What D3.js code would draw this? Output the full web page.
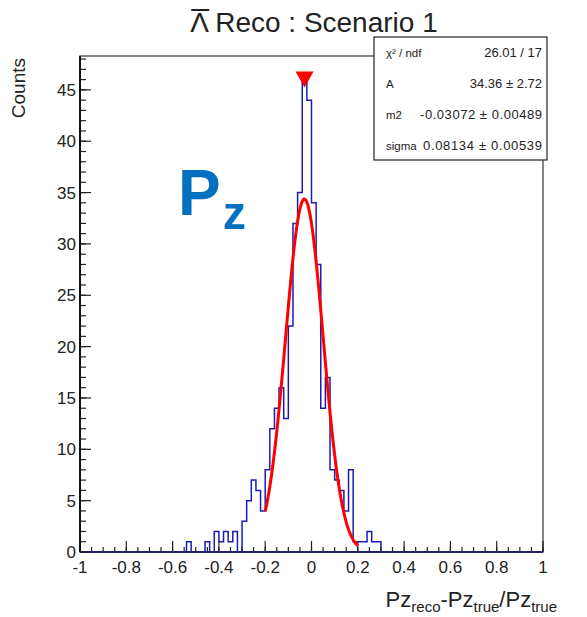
<!DOCTYPE html>
<html lang='en'>
<head>
  <meta charset="utf-8">
  <title>Lambda Reco Pz</title>
  <script src='https://cdn.jsdelivr.net/npm/d3@7'></script>
  <style>
    body { margin: 0; background: white; }
    text { font-family: "Liberation Sans", Arial, sans-serif; }
  </style>
</head>
<body>
  <script>
    // histogram: 100 bins between -1 and 1
    const binLow = -1, binWidth = 0.02;
    const counts = [
      0, 0, 0, 0, 0, 0, 0, 0, 0, 0,
      0, 0, 0, 0, 0, 0, 0, 0, 0, 0,
      0, 0, 0, 1, 0, 0, 0, 1, 0, 2,
      1, 2, 1, 2, 0, 3, 5, 7, 6, 4,
      8, 12, 14, 16, 13, 22, 32, 35, 46, 44,
      34, 28, 14, 17, 8, 7, 6, 4, 8, 1,
      1, 1, 2, 1, 1, 0, 0, 0, 0, 0,
      0, 0, 0, 0, 0, 0, 0, 0, 0, 0,
      0, 0, 0, 0, 0, 0, 0, 0, 0, 0,
      0, 0, 0, 0, 0, 0, 0, 0, 0, 0
    ];
    // gaussian fit (from the stats box) and its range
    const fitA = 34.36, fitMean = -0.03072, fitSigma = 0.08134;
    const fitRange = [-0.2, 0.2];
    const statsRows = [
      ["\u03c7\u00b2 / ndf", "26.01 / 17"],
      ["A", "34.36 \u00b1 2.72"],
      ["m2", "-0.03072 \u00b1 0.00489"],
      ["sigma", "0.08134 \u00b1 0.00539"]
    ];
    const xTicks = [-1, -0.8, -0.6, -0.4, -0.2, 0, 0.2, 0.4, 0.6, 0.8, 1];
    const yTicks = [0, 5, 10, 15, 20, 25, 30, 35, 40, 45];

    let width = 587, height = 617;
    let frame = { left: 80, right: 543, top: 56, bottom: 552 };
    let svg = d3.select("body").append("svg")
      .attr("width", width)
      .attr("height", height);

    let maxCount = d3.max(counts);
    let xScale = d3.scaleLinear().domain([-1, 1]).range([frame.left, frame.right]);
    let yScale = d3.scaleLinear().domain([0, maxCount * 1.05]).range([frame.bottom, frame.top]);

    // frame
    svg.append("rect")
      .attr("x", frame.left).attr("y", frame.top)
      .attr("width", frame.right - frame.left)
      .attr("height", frame.bottom - frame.top)
      .attr("fill", "none")
      .attr("stroke", "#333")
      .attr("stroke-width", 1.2);

    // histogram outline
    let points = counts.map((c, i) => ({ x: binLow + i * binWidth, y: c }));
    points.push({ x: binLow + counts.length * binWidth, y: 0 });
    let step = d3.line()
      .x(d => xScale(d.x))
      .y(d => yScale(d.y))
      .curve(d3.curveStepAfter);
    svg.append("path")
      .attr("d", step(points))
      .attr("fill", "none")
      .attr("stroke", "#1c1cb4")
      .attr("stroke-width", 1.5);

    // x axis: major 0.2, minor 0.05, ticks pointing up
    let xMinor = d3.range(-1, 1.0001, 0.05);
    let xAxisG = svg.append("g");
    xAxisG.selectAll(".xminor").data(xMinor).join("line")
      .attr("x1", d => xScale(d)).attr("x2", d => xScale(d))
      .attr("y1", frame.bottom).attr("y2", frame.bottom - 5)
      .attr("stroke", "#222").attr("stroke-width", 1.2);
    xAxisG.selectAll(".xmajor").data(xTicks).join("line")
      .attr("x1", d => xScale(d)).attr("x2", d => xScale(d))
      .attr("y1", frame.bottom).attr("y2", frame.bottom - 11)
      .attr("stroke", "#222").attr("stroke-width", 1.2);
    xAxisG.append("line")
      .attr("x1", frame.left).attr("x2", frame.right)
      .attr("y1", frame.bottom).attr("y2", frame.bottom)
      .attr("stroke", "#22226a").attr("stroke-width", 2);
    xAxisG.selectAll(".xlab").data(xTicks).join("text")
      .attr("x", d => xScale(d))
      .attr("y", frame.bottom + 21)
      .attr("text-anchor", "middle")
      .attr("font-size", 17)
      .attr("fill", "#222")
      .text(d => String(d));

    // y axis: major 5, minor 1, ticks pointing right
    let yMinor = d3.range(0, 49, 1);
    let yAxisG = svg.append("g");
    yAxisG.selectAll(".yminor").data(yMinor).join("line")
      .attr("x1", frame.left).attr("x2", frame.left + 6)
      .attr("y1", d => yScale(d)).attr("y2", d => yScale(d))
      .attr("stroke", "#222").attr("stroke-width", 1.2);
    yAxisG.selectAll(".ymajor").data(yTicks).join("line")
      .attr("x1", frame.left).attr("x2", frame.left + 11)
      .attr("y1", d => yScale(d)).attr("y2", d => yScale(d))
      .attr("stroke", "#222").attr("stroke-width", 1.2);
    yAxisG.append("line")
      .attr("x1", frame.left).attr("x2", frame.left)
      .attr("y1", frame.top).attr("y2", frame.bottom)
      .attr("stroke", "#111").attr("stroke-width", 2);
    yAxisG.selectAll(".ylab").data(yTicks).join("text")
      .attr("x", frame.left - 4)
      .attr("y", d => yScale(d) + 6)
      .attr("text-anchor", "end")
      .attr("font-size", 17)
      .attr("fill", "#222")
      .text(d => d);

    // gaussian fit curve
    let fitX = d3.range(fitRange[0], fitRange[1] + 0.0001, 0.004);
    let gauss = x => fitA * Math.exp(-0.5 * Math.pow((x - fitMean) / fitSigma, 2));
    let fitLine = d3.line()
      .x(d => xScale(d))
      .y(d => yScale(gauss(d)));
    svg.append("path")
      .attr("d", fitLine(fitX))
      .attr("fill", "none")
      .attr("stroke", "#ff0000")
      .attr("stroke-width", 3);

    // marker on the maximum bin
    let maxIdx = counts.indexOf(maxCount);
    let mx = xScale(binLow + (maxIdx + 0.5) * binWidth), my = yScale(maxCount);
    svg.append("path")
      .attr("d", `M${mx - 9},${my - 8}L${mx + 9},${my - 8}L${mx},${my + 8}Z`)
      .attr("fill", "#ff0000");

    // axis titles
    svg.append("text")
      .attr("transform", `translate(25, ${frame.top + 2}) rotate(-90)`)
      .attr("text-anchor", "end")
      .attr("font-size", 19)
      .attr("fill", "#222")
      .text("Counts");

    let xTitle = svg.append("text")
      .attr("x", 557)
      .attr("y", 607)
      .attr("text-anchor", "end")
      .attr("font-size", 22)
      .attr("fill", "#222");
    [["Pz", 0], ["reco", 1], ["-Pz", 0], ["true", 1], ["/Pz", 0], ["true", 1]].forEach((p, i) => {
      xTitle.append("tspan")
        .attr("font-size", p[1] ? 15 : 22)
        .attr("dy", i === 0 ? 0 : (p[1] ? 5 : -5))
        .text(p[0]);
    });

    // title
    let title = svg.append("text")
      .attr("x", 314)
      .attr("y", 32)
      .attr("text-anchor", "middle")
      .attr("font-size", 28)
      .attr("fill", "#222")
      .text("\u039b Reco : Scenario 1");
    let tb = title.node().getBBox();
    svg.append("line")
      .attr("x1", tb.x + 1).attr("x2", tb.x + 19)
      .attr("y1", 10).attr("y2", 10)
      .attr("stroke", "#222").attr("stroke-width", 2);

    // stats box
    let box = { x: 374, y: 37, w: 173, h: 123 };
    svg.append("rect")
      .attr("x", box.x).attr("y", box.y)
      .attr("width", box.w).attr("height", box.h)
      .attr("fill", "white")
      .attr("stroke", "#222")
      .attr("stroke-width", 1.2);
    let rowH = box.h / statsRows.length;
    let rows = svg.selectAll(".stat").data(statsRows).join("g")
      .attr("transform", (d, i) => `translate(0, ${box.y + rowH * (i + 0.5) + 5})`);
    rows.append("text")
      .attr("x", box.x + 12)
      .attr("font-size", 11.5)
      .attr("fill", "#222")
      .text(d => d[0]);
    rows.append("text")
      .attr("x", box.x + box.w - 5)
      .attr("text-anchor", "end")
      .attr("font-size", 13)
      .attr("textLength", (d, i) => i === 2 ? 122 : (i === 3 ? 119 : null))
      .attr("fill", "#222")
      .text(d => d[1]);

    // big Pz label
    let pz = svg.append("text")
      .attr("x", 178)
      .attr("y", 215)
      .attr("font-weight", "bold")
      .attr("fill", "#0070c0")
      .attr("font-size", 64);
    pz.append("tspan").text("P");
    pz.append("tspan").attr("font-size", 46).attr("dy", 14).attr("dx", 2).text("z");
  </script>
</body>
</html>
